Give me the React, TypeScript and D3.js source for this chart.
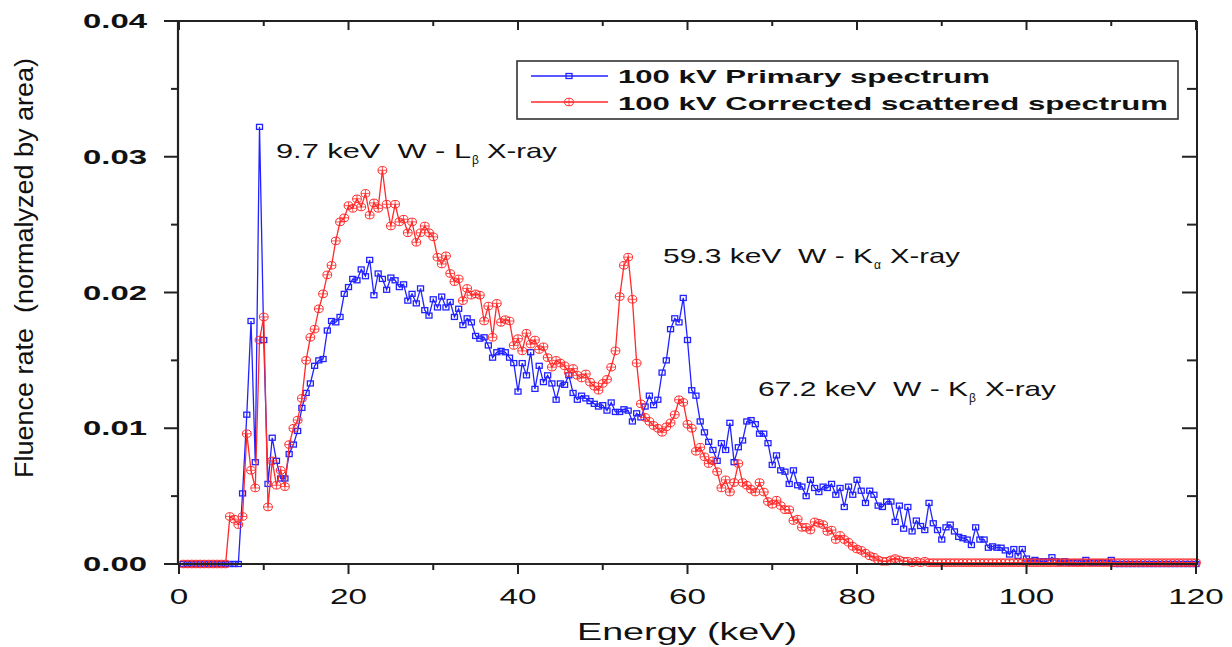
import React from 'react';
import * as d3 from 'd3';

// Energy grid (keV) for both spectra
const E_START = 0.5;
const E_STEP = 0.5;

// 100 kV Primary spectrum (fluence rate, normalized by area), E = 0.5 ... 120 keV
const primary: number[] = [
  0, 0, 0, 0, 0, 0, 0, 0, 0, 0,
  0, 0, 0, 0, 0.0052, 0.0110, 0.0179, 0.0075, 0.0322, 0.0165,
  0.0059, 0.0093, 0.0076, 0.0063, 0.0063, 0.0081, 0.0088, 0.0098, 0.0115, 0.0126,
  0.0133, 0.0146, 0.0150, 0.0151, 0.0172, 0.0179, 0.0178, 0.0182, 0.0199, 0.0204,
  0.0210, 0.0209, 0.0217, 0.0212, 0.0224, 0.0198, 0.0214, 0.0210, 0.0202, 0.0211,
  0.0209, 0.0204, 0.0206, 0.0194, 0.0199, 0.0192, 0.0203, 0.0187, 0.0183, 0.0195,
  0.0189, 0.0197, 0.0189, 0.0193, 0.0182, 0.0188, 0.0176, 0.0181, 0.0178, 0.0168,
  0.0166, 0.0167, 0.0161, 0.0152, 0.0156, 0.0157, 0.0156, 0.0152, 0.0148, 0.0127,
  0.0148, 0.0139, 0.0156, 0.0129, 0.0146, 0.0134, 0.0139, 0.0133, 0.0121, 0.0133,
  0.0132, 0.0139, 0.0126, 0.0121, 0.0124, 0.0122, 0.0120, 0.0118, 0.0116, 0.0117,
  0.0113, 0.0119, 0.0112, 0.0112, 0.0114, 0.0113, 0.0105, 0.0111, 0.0108, 0.0116,
  0.0124, 0.0117, 0.0121, 0.0141, 0.0150, 0.0173, 0.0181, 0.0178, 0.0196, 0.0165,
  0.0128, 0.0124, 0.0105, 0.0097, 0.0090, 0.0084, 0.0076, 0.0089, 0.0084, 0.0104,
  0.0075, 0.0086, 0.0091, 0.0105, 0.0106, 0.0103, 0.0096, 0.0096, 0.0089, 0.0073,
  0.0080, 0.0069, 0.0068, 0.0059, 0.0069, 0.0058, 0.0057, 0.0050, 0.0062, 0.0056,
  0.0053, 0.0057, 0.0056, 0.0059, 0.0051, 0.0056, 0.0042, 0.0057, 0.0051, 0.0062,
  0.0054, 0.0045, 0.0054, 0.0051, 0.0043, 0.0042, 0.0046, 0.0046, 0.0031, 0.0043,
  0.0026, 0.0042, 0.0024, 0.0032, 0.0028, 0.0025, 0.0045, 0.0030, 0.0025, 0.0018,
  0.0027, 0.0029, 0.0024, 0.0020, 0.0019, 0.0018, 0.0014, 0.0027, 0.0018, 0.0018,
  0.0012, 0.0013, 0.0012, 0.0012, 0.0010, 0.0007, 0.0011, 0.0006, 0.0011, 0.0004,
  0.0002, 0.0003, 0.0002, 0.0002, 0.0002, 0.0005, 0.0002, 0.0001, 0.0002, 0.0001,
  0.0001, 0.0001, 0.0001, 0.0003, 0.0001, 0.0001, 0.0001, 0.0001, 0.0001, 0.0003,
  0, 0, 0, 0, 0, 0, 0, 0, 0, 0,
  0, 0, 0, 0, 0, 0, 0, 0, 0, 0,
];

// 100 kV Corrected scattered spectrum, E = 0.5 ... 120 keV
const scattered: number[] = [
  0, 0, 0, 0, 0, 0, 0, 0, 0, 0,
  0, 0.0035, 0.0033, 0.0029, 0.0035, 0.0096, 0.0069, 0.0056, 0.0165, 0.0182,
  0.0042, 0.0076, 0.0058, 0.0069, 0.0057, 0.0088, 0.0100, 0.0106, 0.0122, 0.0150,
  0.0167, 0.0173, 0.0188, 0.0199, 0.0213, 0.0220, 0.0238, 0.0252, 0.0255, 0.0264,
  0.0262, 0.0269, 0.0263, 0.0273, 0.0257, 0.0266, 0.0262, 0.0290, 0.0265, 0.0249,
  0.0265, 0.0252, 0.0254, 0.0244, 0.0252, 0.0237, 0.0244, 0.0249, 0.0244, 0.0241,
  0.0226, 0.0221, 0.0227, 0.0214, 0.0208, 0.0210, 0.0194, 0.0203, 0.0198, 0.0199,
  0.0198, 0.0179, 0.0190, 0.0167, 0.0192, 0.0178, 0.0180, 0.0179, 0.0161, 0.0166,
  0.0157, 0.0170, 0.0162, 0.0165, 0.0158, 0.0160, 0.0152, 0.0145, 0.0150, 0.0148,
  0.0146, 0.0141, 0.0144, 0.0139, 0.0137, 0.0140, 0.0134, 0.0131, 0.0128, 0.0133,
  0.0136, 0.0145, 0.0157, 0.0197, 0.0220, 0.0226, 0.0195, 0.0148, 0.0118, 0.0108,
  0.0105, 0.0102, 0.0100, 0.0097, 0.0101, 0.0104, 0.0110, 0.0121, 0.0119, 0.0103,
  0.0100, 0.0083, 0.0086, 0.0079, 0.0074, 0.0076, 0.0068, 0.0056, 0.0062, 0.0053,
  0.0060, 0.0074, 0.0060, 0.0058, 0.0055, 0.0053, 0.0060, 0.0053, 0.0046, 0.0044,
  0.0047, 0.0043, 0.0040, 0.0040, 0.0032, 0.0033, 0.0027, 0.0027, 0.0025, 0.0031,
  0.0030, 0.0029, 0.0024, 0.0025, 0.0018, 0.0021, 0.0018, 0.0016, 0.0013, 0.0011,
  0.0010, 0.0008, 0.0006, 0.0005, 0.0003, 0.0002, 0.0002, 0.0003, 0.0004, 0.0003,
  0.0002, 0.0002, 0.0001, 0.0002, 0.0001, 0.0002, 0.0001, 0.0001, 0.0001, 0.0001,
  0.0001, 0.0001, 0.0001, 0.0001, 0.0001, 0.0001, 0.0001, 0.0001, 0.0001, 0.0001,
  0.0001, 0.0001, 0.0001, 0.0001, 0.0001, 0.0001, 0.0001, 0.0001, 0.0001, 0.0001,
  0.0001, 0.0001, 0.0001, 0.0001, 0.0001, 0.0001, 0.0001, 0.0001, 0.0001, 0.0001,
  0.0001, 0.0001, 0.0001, 0.0001, 0.0001, 0.0001, 0.0001, 0.0001, 0.0001, 0.0001,
  0.0001, 0.0001, 0.0001, 0.0001, 0.0001, 0.0001, 0.0001, 0.0001, 0.0001, 0.0001,
  0.0001, 0.0001, 0.0001, 0.0001, 0.0001, 0.0001, 0.0001, 0.0001, 0.0001, 0.0001,
];

const xMajorTicks = [0, 20, 40, 60, 80, 100, 120];
const xMinorTicks = [10, 30, 50, 70, 90, 110];
const yMajorTicks = [0, 0.01, 0.02, 0.03, 0.04];
const yMinorTicks = [0.005, 0.015, 0.025, 0.035];
const yTickLabels = ['0.00', '0.01', '0.02', '0.03', '0.04'];
const legendLabels = ['100 kV Primary spectrum', '100 kV Corrected scattered spectrum'];
const xTitle = 'Energy (keV)';
const yTitle = 'Fluence rate  (normalyzed by area)';

const BLUE = '#2222ff';
const RED = '#ff2a2a';
const FONT = "'Liberation Sans', Arial, sans-serif";

export default function App() {
  const W = 1232;
  const H = 647;
  const left = 179, right = 1196, top = 21, bottom = 564;

  const x = d3.scaleLinear().domain([0, 120]).range([left, right]);
  const y = d3.scaleLinear().domain([0, 0.04]).range([bottom, top]);

  const toPts = (arr: number[]) => arr.map((v, i) => ({ e: E_START + i * E_STEP, v }));
  const bluePts = toPts(primary);
  const redPts = toPts(scattered);

  const line = d3
    .line<{ e: number; v: number }>()
    .x((d) => x(d.e))
    .y((d) => y(d.v));

  const square = (cx: number, cy: number, key: string) => (
    <rect key={key} x={cx - 3} y={cy - 2.5} width={6} height={5} fill="none" stroke={BLUE} strokeWidth={1.3} />
  );
  const circ = (cx: number, cy: number, key: string) => (
    <g key={key}>
      <ellipse cx={cx} cy={cy} rx={4.4} ry={3.8} fill="none" stroke={RED} strokeWidth={1} />
      <path d={`M${cx - 4.4},${cy}H${cx + 4.4}M${cx},${cy - 3.8}V${cy + 3.8}`} stroke={RED} strokeWidth={0.8} />
    </g>
  );

  const axisColor = '#222';

  const annotations = [
    { x0: 276, y0: 158, main: '9.7 keV  W - L', mainLen: 195, sub: 'β', tailX: 487, tailLen: 70 },
    { x0: 663, y0: 263, main: '59.3 keV  W - K', mainLen: 210, sub: 'α', tailX: 890, tailLen: 70 },
    { x0: 758, y0: 396, main: '67.2 keV  W - K', mainLen: 210, sub: 'β', tailX: 985, tailLen: 71 },
  ];

  return (
    <svg width={W} height={H} style={{ position: 'absolute', left: 0, top: 0, background: '#fff' }} fontFamily={FONT}>
      <rect x={0} y={0} width={W} height={H} fill="#fff" />

      {/* series */}
      <path d={line(bluePts) || ''} fill="none" stroke={BLUE} strokeWidth={1.3} />
      {bluePts.map((d, i) => square(x(d.e), y(d.v), 'b' + i))}
      <path d={line(redPts) || ''} fill="none" stroke={RED} strokeWidth={1.3} />
      {redPts.map((d, i) => circ(x(d.e), y(d.v), 'r' + i))}

      {/* frame */}
      <line x1={left - 1} x2={right + 1} y1={top} y2={top} stroke={axisColor} strokeWidth={2} />
      <line x1={right + 1} x2={right + 1} y1={top} y2={bottom} stroke={axisColor} strokeWidth={2} />
      <line x1={left - 1} x2={right + 2} y1={bottom} y2={bottom} stroke={axisColor} strokeWidth={2.2} />
      <line x1={left - 1} x2={left - 1} y1={top - 1} y2={bottom + 1} stroke={axisColor} strokeWidth={2.2} />

      {/* x ticks */}
      {xMajorTicks.map((t) => (
        <g key={'xM' + t}>
          <line x1={x(t)} x2={x(t)} y1={bottom} y2={bottom + 10} stroke={axisColor} strokeWidth={2} />
          <line x1={x(t)} x2={x(t)} y1={top} y2={top + 9} stroke={axisColor} strokeWidth={2} />
          <text
            x={x(t)}
            y={604}
            fontSize={22}
            textAnchor="middle"
            fill="#111"
            textLength={String(t).length * 18.5}
            lengthAdjust="spacingAndGlyphs"
          >
            {t}
          </text>
        </g>
      ))}
      {xMinorTicks.map((t) => (
        <g key={'xm' + t}>
          <line x1={x(t)} x2={x(t)} y1={bottom} y2={bottom + 6} stroke={axisColor} strokeWidth={2} />
          <line x1={x(t)} x2={x(t)} y1={top} y2={top + 5} stroke={axisColor} strokeWidth={2} />
        </g>
      ))}

      {/* y ticks */}
      {yMajorTicks.map((t, i) => (
        <g key={'yM' + t}>
          <line x1={left - 15} x2={left - 1} y1={y(t)} y2={y(t)} stroke={axisColor} strokeWidth={2} />
          <line x1={right - 14} x2={right + 1} y1={y(t)} y2={y(t)} stroke={axisColor} strokeWidth={2} />
          <text
            x={147}
            y={y(t) + 7}
            fontSize={20}
            fontWeight="bold"
            textAnchor="end"
            fill="#111"
            textLength={64}
            lengthAdjust="spacingAndGlyphs"
          >
            {yTickLabels[i]}
          </text>
        </g>
      ))}
      {yMinorTicks.map((t) => (
        <g key={'ym' + t}>
          <line x1={left - 8} x2={left - 1} y1={y(t)} y2={y(t)} stroke={axisColor} strokeWidth={2} />
          <line x1={right - 9} x2={right + 1} y1={y(t)} y2={y(t)} stroke={axisColor} strokeWidth={2} />
        </g>
      ))}

      {/* axis titles */}
      <text x={577} y={640} fontSize={23} fill="#111" textLength={220} lengthAdjust="spacingAndGlyphs">
        {xTitle}
      </text>
      <text
        transform="translate(33,268) rotate(-90)"
        textAnchor="middle"
        fontSize={25}
        fill="#111"
        textLength={420}
        lengthAdjust="spacingAndGlyphs"
        style={{ whiteSpace: 'pre' }}
      >
        {yTitle}
      </text>

      {/* annotations */}
      {annotations.map((a, i) => (
        <g key={'ann' + i} fill="#111">
          <text x={a.x0} y={a.y0} fontSize={21} textLength={a.mainLen} lengthAdjust="spacingAndGlyphs" style={{ whiteSpace: 'pre' }}>
            {a.main}
          </text>
          <text x={a.x0 + a.mainLen + 1} y={a.y0 + 6} fontSize={12}>
            {a.sub}
          </text>
          <text x={a.tailX} y={a.y0} fontSize={21} textLength={a.tailLen} lengthAdjust="spacingAndGlyphs">
            X-ray
          </text>
        </g>
      ))}

      {/* legend */}
      <rect x={517} y={61} width={661} height={58} fill="#fff" stroke="#333" strokeWidth={1.6} />
      <line x1={531} x2={608} y1={76} y2={76} stroke={BLUE} strokeWidth={1.4} />
      {square(569, 76, 'lb')}
      <line x1={531} x2={608} y1={102} y2={102} stroke={RED} strokeWidth={1.4} />
      {circ(569, 102, 'lr')}
      <text x={618} y={83} fontSize={19} fontWeight="bold" fill="#111" textLength={372} lengthAdjust="spacingAndGlyphs">
        {legendLabels[0]}
      </text>
      <text x={618} y={110} fontSize={19} fontWeight="bold" fill="#111" textLength={550} lengthAdjust="spacingAndGlyphs">
        {legendLabels[1]}
      </text>
    </svg>
  );
}
